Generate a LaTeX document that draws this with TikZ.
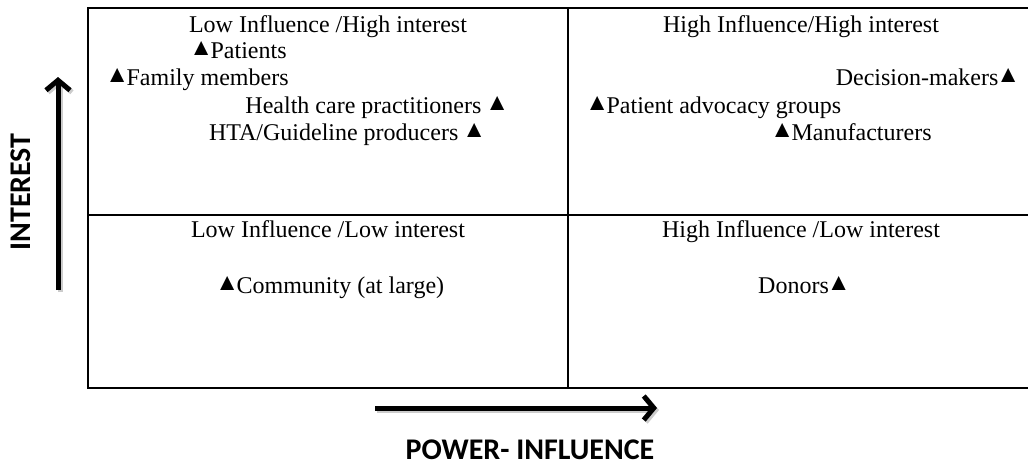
\documentclass[tikz,border=0pt]{standalone}
\usepackage{fontspec}
\setmainfont{Liberation Serif}
\newfontfamily\axisfont{Carlito}
\usepackage{graphicx}
\usetikzlibrary{positioning,arrows.meta}

% small filled triangle used as a marker (side bearings trimmed)
\newcommand{\tri}{\kern-0.08em\raisebox{0.1em}{\scalebox{1.0}{▲}}\kern-0.1em}

\begin{document}
\begin{tikzpicture}[x=1pt,y=-1pt,
  every node/.style={inner sep=0pt, font=\fontsize{24}{28}\selectfont},
  grid/.style={line width=2pt},
  axis/.style={line width=5pt, -{Straight Barb[length=10pt,width=24pt]}},
  axislabel/.style={font=\axisfont\bfseries\fontsize{30}{34}\selectfont}]

\useasboundingbox (0,0) rectangle (1028,466);

% the four quadrants
\draw[grid] (88,8) rectangle (1031,388);
\draw[grid] (568,8) -- (568,388);
\draw[grid] (88,215) -- (1031,215);

\foreach \name/\x/\y/\txt in {lh/328/32/{Low Influence /High interest},
                              hh/801/32/{High Influence/High interest},
                              ll/328/237/{Low Influence /Low interest},
                              hl/801/237/{High Influence /Low interest}} {
    \node[anchor=base] (\name) at (\x,\y) {\txt};
}

% stakeholders
\foreach \name/\anc/\x/\y/\txt in {pat/base west/191/58/{\tri Patients},
                                   fam/base west/107/85/{\tri Family members},
                                   hcp/base east/507/113/{Health care practitioners \tri},
                                   hta/base east/484/140/{HTA/Guideline producers \tri},
                                   dm/base east/1018/85/{Decision-makers\tri},
                                   pag/base west/587/113/{\tri Patient advocacy groups},
                                   man/base west/772/140/{\tri Manufacturers},
                                   com/base west/217/293/{\tri Community (at large)},
                                   don/base west/758/293/{Donors\tri}} {
    \node[anchor=\anc] (\name) at (\x,\y) {\txt};
}

% axes
\coordinate (ylo) at (58,290);
\coordinate (yhi) at (58,77);
\coordinate (xlo) at (375,408);
\coordinate (xhi) at (657,408);

\draw[axis, black!20] ([shift={(2,2)}]ylo) -- ([shift={(2,2)}]yhi);
\draw[axis, black!20] ([shift={(2,2)}]xlo) -- ([shift={(2,2)}]xhi);
\draw[axis] (ylo) -- (yhi);
\draw[axis] (xlo) -- (xhi);

\node[axislabel, rotate=90] (interest) at (21,192) {INTEREST};
\node[axislabel, anchor=base] (power) at (530,459) {POWER- INFLUENCE};
\end{tikzpicture}
\end{document}
